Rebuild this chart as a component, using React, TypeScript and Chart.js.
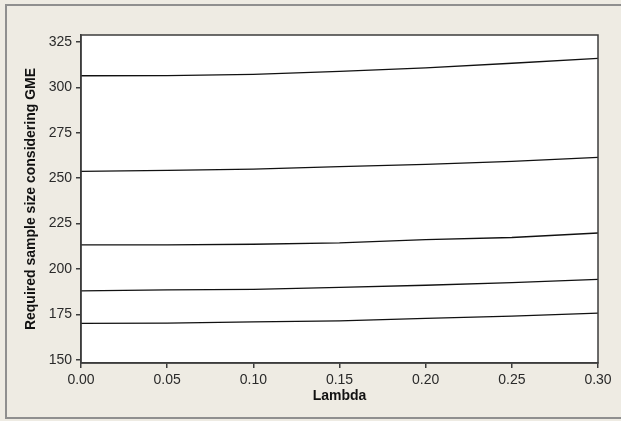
import React, { useEffect, useRef } from 'react';
import { Chart, registerables } from 'chart.js';

Chart.register(...registerables);

const lambdaValues = [0, 0.05, 0.1, 0.15, 0.2, 0.25, 0.3];
const series1 = [306.4, 306.5, 307.2, 308.8, 310.7, 313.3, 316.0];
const series2 = [253.7, 254.3, 255.0, 256.3, 257.6, 259.3, 261.4];
const series3 = [213.2, 213.2, 213.6, 214.3, 216.1, 217.3, 219.8];
const series4 = [187.9, 188.5, 188.7, 189.8, 191.0, 192.4, 194.2];
const series5 = [170.0, 170.1, 170.8, 171.4, 172.8, 174.0, 175.6];
const xTicks = [0, 0.05, 0.1, 0.15, 0.2, 0.25, 0.3];
const yTicks = [150, 175, 200, 225, 250, 275, 300, 325];
const xTitle = 'Lambda';
const yTitle = 'Required sample size considering GME';

const allSeries = [series1, series2, series3, series4, series5];

const plotFrame = {
  id: 'plotFrame',
  beforeDraw(chart: any) {
    const { ctx, chartArea } = chart;
    ctx.save();
    ctx.fillStyle = '#ffffff';
    ctx.fillRect(chartArea.left, chartArea.top, chartArea.right - chartArea.left, chartArea.bottom - chartArea.top);
    ctx.restore();
  },
  afterDraw(chart: any) {
    const { ctx, chartArea } = chart;
    ctx.save();
    ctx.strokeStyle = '#3c3c3c';
    ctx.lineWidth = 1.5;
    ctx.strokeRect(chartArea.left, chartArea.top, chartArea.right - chartArea.left, chartArea.bottom - chartArea.top);
    ctx.restore();
  },
};

export default function App() {
  const canvasRef = useRef<HTMLCanvasElement | null>(null);

  useEffect(() => {
    document.body.style.margin = '0';
    const canvas = canvasRef.current;
    if (!canvas) return;
    const tickFont = { family: '"Liberation Sans", Arial, sans-serif', size: 14 };
    const titleFont = { family: '"Liberation Sans", Arial, sans-serif', size: 14, weight: 'bold' as const };
    const chart = new Chart(canvas, {
      type: 'line',
      data: {
        datasets: allSeries.map((s) => ({
          data: lambdaValues.map((x, i) => ({ x, y: s[i] })),
          borderColor: '#111111',
          borderWidth: 1.3,
          pointRadius: 0,
          tension: 0,
          fill: false,
        })),
      },
      options: {
        responsive: false,
        animation: false,
        events: [],
        layout: { padding: { left: 0, top: 35, right: 23, bottom: 0 } },
        plugins: { legend: { display: false }, tooltip: { enabled: false } },
        scales: {
          x: {
            type: 'linear',
            min: 0,
            max: 0.3,
            afterBuildTicks: (scale: any) => {
              scale.ticks = xTicks.map((v) => ({ value: v }));
            },
            afterFit: (scale: any) => {
              scale.height = 58;
            },
            ticks: {
              font: tickFont,
              color: '#2a2a2a',
              padding: 4,
              maxRotation: 0,
              autoSkip: false,
              callback: (v: any) => Number(v).toFixed(2),
            },
            grid: {
              drawOnChartArea: false,
              drawTicks: true,
              tickLength: 5,
              color: '#3c3c3c',
              lineWidth: 1.5,
            },
            border: { display: true, color: '#3c3c3c', width: 1.5 },
            title: {
              display: true,
              text: xTitle,
              font: titleFont,
              color: '#111111',
              padding: { top: 0, bottom: 16 },
            },
          },
          y: {
            type: 'linear',
            min: 148.18,
            max: 328.86,
            afterBuildTicks: (scale: any) => {
              scale.ticks = yTicks.map((v) => ({ value: v }));
            },
            afterFit: (scale: any) => {
              scale.width = 81;
            },
            ticks: {
              font: tickFont,
              color: '#2a2a2a',
              padding: 4,
              autoSkip: false,
              callback: (v: any) => String(v),
            },
            grid: {
              drawOnChartArea: false,
              drawTicks: true,
              tickLength: 5,
              color: '#3c3c3c',
              lineWidth: 1.5,
            },
            border: { display: true, color: '#3c3c3c', width: 1.5 },
            title: {
              display: true,
              text: yTitle,
              font: titleFont,
              color: '#111111',
              padding: { top: 23, bottom: 0 },
            },
          },
        },
      },
      plugins: [plotFrame],
    });
    return () => {
      chart.destroy();
    };
  }, []);

  return (
    <div
      style={{
        position: 'fixed',
        left: 0,
        top: 0,
        width: 621,
        height: 421,
        background: '#eeebe3',
        overflow: 'hidden',
      }}
    >
      <div
        style={{
          position: 'absolute',
          left: 5,
          top: 4,
          width: 616,
          height: 415,
          borderLeft: '2px solid #8f8f8f',
          borderTop: '2px solid #8f8f8f',
          borderBottom: '2px solid #8f8f8f',
          borderRight: 'none',
          boxSizing: 'border-box',
        }}
      />
      <canvas
        ref={canvasRef}
        width={621}
        height={421}
        style={{ position: 'absolute', left: 0, top: 0, display: 'block' }}
      />
    </div>
  );
}
